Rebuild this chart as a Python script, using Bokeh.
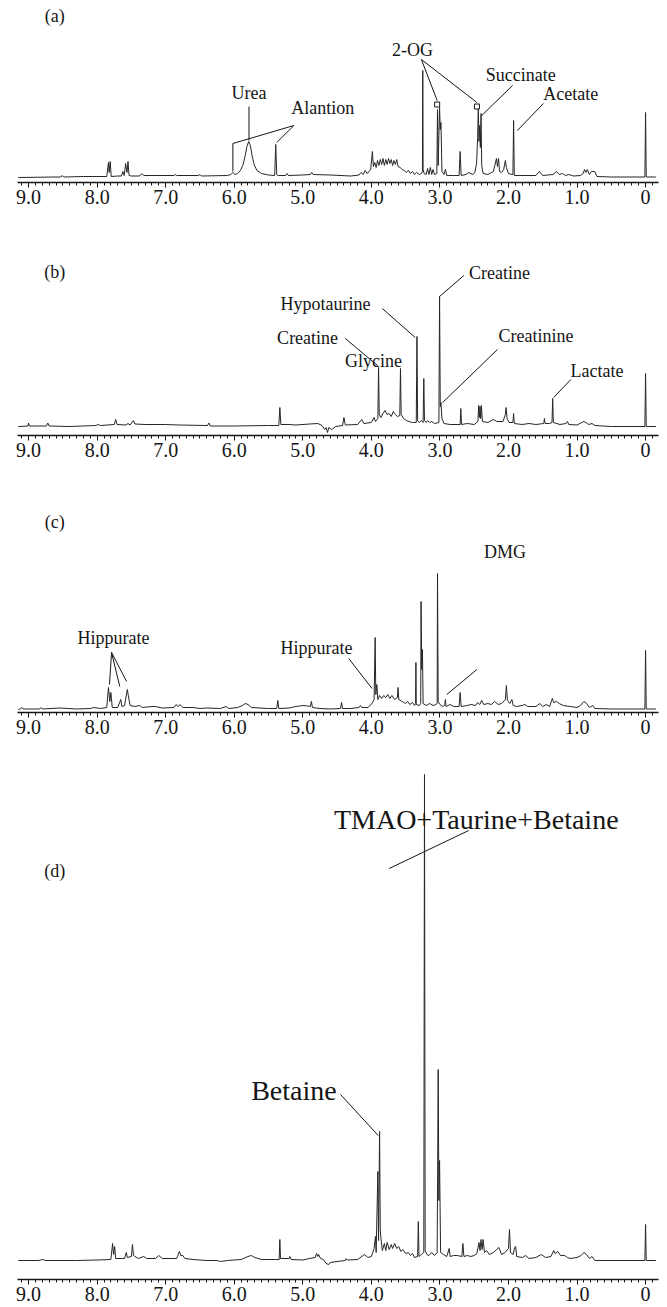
from bokeh.plotting import figure
from bokeh.layouts import column
from bokeh.models import Range1d, FixedTicker
from bokeh.core.properties import value
from bokeh.embed import file_html
from bokeh.resources import INLINE

# ---------------- data (chemical shift in ppm, intensity in arbitrary units) ----------------
tick_values = [9, 8, 7, 6, 5, 4, 3, 2, 1, 0]
tick_labels = ["9.0", "8.0", "7.0", "6.0", "5.0", "4.0", "3.0", "2.0", "1.0", "0"]

# panel (a)
a_ppm = [9.15, 8.60, 8.53, 8.51, 8.49, 8.20, 7.86, 7.835, 7.825, 7.81,
         7.795, 7.70, 7.645, 7.625, 7.605, 7.585, 7.565, 7.55, 7.535, 7.50,
         7.38, 7.35, 7.32, 7.10, 6.88, 6.86, 6.84, 6.52, 6.50, 6.48,
         6.10, 6.05, 6.02, 5.99, 5.95, 5.91, 5.87, 5.84, 5.815, 5.79,
         5.765, 5.74, 5.71, 5.67, 5.60, 5.50, 5.41, 5.395, 5.38, 5.36,
         5.25, 5.23, 5.21, 5.00, 4.89, 4.87, 4.85, 4.60, 4.30, 4.18,
         4.15, 4.12, 4.09, 4.06, 4.01, 3.985, 3.97, 3.95, 3.93, 3.91,
         3.89, 3.87, 3.85, 3.83, 3.81, 3.79, 3.77, 3.75, 3.73, 3.71,
         3.69, 3.67, 3.65, 3.63, 3.61, 3.58, 3.55, 3.52, 3.49, 3.46,
         3.43, 3.40, 3.37, 3.34, 3.30, 3.27, 3.255, 3.25, 3.245, 3.23,
         3.20, 3.18, 3.16, 3.14, 3.12, 3.10, 3.08, 3.045, 3.035, 3.025,
         3.015, 3.005, 2.995, 2.985, 2.97, 2.94, 2.92, 2.90, 2.80, 2.72,
         2.705, 2.69, 2.62, 2.58, 2.52, 2.49, 2.465, 2.45, 2.44, 2.43,
         2.42, 2.41, 2.40, 2.39, 2.37, 2.30, 2.22, 2.175, 2.16, 2.145,
         2.13, 2.10, 2.07, 2.045, 2.03, 2.00, 1.95, 1.935, 1.925, 1.915,
         1.80, 1.60, 1.55, 1.50, 1.35, 1.30, 1.26, 1.21, 1.17, 1.12,
         1.05, 0.95, 0.91, 0.89, 0.87, 0.85, 0.82, 0.79, 0.77, 0.74,
         0.71, 0.50, 0.01, 0.00, -0.01, -0.15]
a_int = [0, 0.5, 0.5, 2, 0.5, 1, 1, 15, 5, 16,
         1, 1.5, 1.5, 6, 2, 14, 5, 16, 2, 1.5,
         1.5, 4, 2, 2, 2, 3, 2, 2, 3, 1.5,
         2, 3, 5, 3, 4, 7, 13, 22, 31, 36,
         32, 22, 13, 7, 4, 2.5, 2, 33, 3, 2,
         2, 4, 2, 2.5, 3, 5, 3, 2.5, 1.5, 2.5,
         5, 3, 7, 4, 8, 26, 11, 15, 10, 17,
         12, 18, 13, 19, 12, 18, 13, 19, 14, 18,
         12, 17, 13, 18, 11, 10, 8, 7, 5, 7,
         4, 6, 3, 5, 3, 4, 6, 107, 8, 4,
         3, 9, 3, 10, 3, 8, 3, 4, 68, 12,
         42, 70, 48, 55, 6, 3, 8, 2, 2, 2,
         26, 2, 3, 5, 3, 5, 14, 40, 69, 36,
         52, 30, 64, 12, 4, 3, 6, 19, 11, 19,
         6, 5, 8, 17, 10, 4, 3, 3, 57, 2,
         2, 2, 6, 2, 3, 6, 3, 4, 2, 3,
         1.5, 2, 4, 8, 5, 8, 3, 6, 6, 6,
         1, 0.5, 0.5, 65, 0.5, 0.5]

# panel (b)
b_ppm = [9.15, 9.01, 9.00, 8.99, 8.74, 8.72, 8.70, 8.40, 8.02, 7.99,
         7.95, 7.75, 7.73, 7.71, 7.58, 7.55, 7.52, 7.47, 7.45, 7.30,
         7.00, 6.80, 6.39, 6.37, 6.35, 6.00, 5.50, 5.35, 5.335, 5.32,
         5.20, 5.10, 4.90, 4.78, 4.72, 4.68, 4.66, 4.64, 4.62, 4.58,
         4.52, 4.42, 4.40, 4.38, 4.20, 4.14, 4.11, 4.00, 3.96, 3.94,
         3.905, 3.895, 3.885, 3.86, 3.83, 3.80, 3.77, 3.74, 3.71, 3.68,
         3.65, 3.62, 3.585, 3.575, 3.565, 3.53, 3.49, 3.45, 3.40, 3.345,
         3.335, 3.325, 3.30, 3.27, 3.245, 3.235, 3.225, 3.20, 3.18, 3.15,
         3.12, 3.08, 3.015, 3.005, 2.995, 2.985, 2.97, 2.94, 2.85, 2.75,
         2.705, 2.695, 2.685, 2.60, 2.50, 2.445, 2.435, 2.425, 2.415, 2.405,
         2.395, 2.38, 2.30, 2.22, 2.17, 2.08, 2.045, 2.035, 2.02, 1.99,
         1.935, 1.925, 1.915, 1.80, 1.70, 1.60, 1.485, 1.475, 1.465, 1.40,
         1.365, 1.355, 1.345, 1.25, 1.16, 1.14, 1.12, 1.00, 0.93, 0.90,
         0.87, 0.83, 0.78, 0.74, 0.50, 0.01, 0.00, -0.01, -0.15]
b_int = [0, 0.5, 3.5, 0.5, 0.5, 3.5, 0.5, 0, 1, 2,
         1, 2, 7, 2, 1.5, 3, 1.5, 6, 2.5, 2,
         2, 1.5, 1, 3.5, 0.5, 0.5, 1, 1, 19, 2,
         2, 1.5, 2.5, 3, 1, -3, -1, -6, -1, -3,
         0, 1, 9, 1.5, 2, 7, 3, 4, 9, 5,
         8, 59, 12, 9, 13, 16, 12, 13, 10, 15,
         12, 10, 11, 58, 12, 8, 6, 5, 4, 4,
         90, 6, 4, 6, 4, 48, 6, 4, 6, 4,
         5, 3, 4, 130, 20, 24, 8, 3, 2, 2,
         2, 18, 2, 3, 2, 5, 21, 9, 20, 8,
         21, 5, 4, 7, 5, 5, 12, 19, 8, 4,
         4, 13, 3, 2, 3, 2, 3, 8, 3, 3,
         4, 28, 4, 2, 3, 5, 2, 1.5, 4, 5,
         4, 2, 3, 1, 0, 0, 53, 0, 0]

# panel (c)
c_ppm = [9.15, 9.12, 9.10, 9.08, 8.84, 8.82, 8.80, 8.55, 8.30, 8.10,
         8.05, 7.95, 7.86, 7.835, 7.815, 7.80, 7.78, 7.70, 7.655, 7.64,
         7.60, 7.56, 7.545, 7.52, 7.45, 7.38, 7.34, 7.20, 7.15, 7.05,
         6.88, 6.85, 6.82, 6.79, 6.75, 6.60, 6.50, 6.40, 6.20, 6.12,
         6.08, 5.95, 5.88, 5.84, 5.80, 5.75, 5.50, 5.38, 5.365, 5.35,
         5.20, 5.10, 5.00, 4.93, 4.89, 4.875, 4.86, 4.75, 4.60, 4.45,
         4.435, 4.42, 4.30, 4.18, 4.16, 4.14, 4.05, 3.99, 3.96, 3.945,
         3.935, 3.92, 3.905, 3.88, 3.85, 3.82, 3.79, 3.76, 3.73, 3.70,
         3.66, 3.62, 3.61, 3.60, 3.55, 3.50, 3.47, 3.44, 3.40, 3.37,
         3.355, 3.35, 3.345, 3.30, 3.28, 3.275, 3.265, 3.255, 3.245, 3.20,
         3.15, 3.10, 3.06, 3.04, 3.035, 3.025, 3.00, 2.96, 2.93, 2.92,
         2.91, 2.85, 2.80, 2.72, 2.705, 2.69, 2.60, 2.55, 2.48, 2.45,
         2.42, 2.39, 2.36, 2.30, 2.25, 2.20, 2.15, 2.10, 2.045, 2.03,
         2.015, 1.98, 1.95, 1.93, 1.88, 1.80, 1.76, 1.72, 1.60, 1.54,
         1.50, 1.45, 1.40, 1.36, 1.34, 1.30, 1.26, 1.20, 1.10, 1.00,
         0.95, 0.90, 0.86, 0.82, 0.77, 0.74, 0.50, 0.01, 0.00, -0.01,
         -0.15]
c_int = [0, 0.5, 2, 0.5, 0.5, 2, 0.5, 1.5, 0.5, 1,
         2, 1, 2, 22, 8, 17, 2, 2, 10, 3,
         4, 20, 14, 4, 3, 4, 2, 3, 3, 1.5,
         2, 5, 3, 5, 2, 2, 1, 1.5, 1, 3,
         1, 2, 4, 6, 5, 2, 1, 1, 9, 1,
         1.5, 3, 4, 3.5, 3, 8, 2, 1, 0.5, 1,
         7, 1, 1, 2, 4, 2, 2, 6, 10, 72,
         15, 25, 10, 14, 11, 14, 12, 15, 11, 14,
         10, 12, 22, 10, 8, 6, 8, 5, 7, 4,
         6, 47, 5, 4, 6, 108, 40, 60, 6, 4,
         6, 4, 5, 6, 136, 8, 5, 3, 4, 10,
         3, 5, 3, 3, 17, 3, 4, 5, 4, 7,
         5, 9, 5, 6, 5, 8, 5, 6, 10, 24,
         9, 6, 10, 4, 3, 4, 5, 3, 3, 6,
         3, 5, 3, 11, 7, 8, 6, 4, 3, 2,
         4, 8, 6, 2, 4, 1, 0.5, 0.5, 59, 0.5,
         0.5]

# panel (d)
d_ppm = [9.15, 8.85, 8.80, 8.75, 8.30, 8.00, 7.80, 7.775, 7.76, 7.745,
         7.73, 7.60, 7.575, 7.56, 7.50, 7.485, 7.47, 7.40, 7.32, 7.28,
         7.15, 7.10, 7.05, 6.84, 6.80, 6.78, 6.75, 6.72, 6.60, 6.40,
         6.25, 6.20, 6.10, 5.90, 5.80, 5.75, 5.70, 5.60, 5.40, 5.345,
         5.335, 5.325, 5.20, 5.19, 5.17, 5.00, 4.90, 4.82, 4.80, 4.78,
         4.77, 4.74, 4.70, 4.66, 4.62, 4.60, 4.50, 4.38, 4.37, 4.35,
         4.20, 4.10, 4.05, 4.00, 3.96, 3.94, 3.93, 3.905, 3.895, 3.88,
         3.87, 3.86, 3.84, 3.81, 3.79, 3.77, 3.74, 3.71, 3.69, 3.66,
         3.63, 3.60, 3.57, 3.54, 3.50, 3.46, 3.43, 3.40, 3.37, 3.325,
         3.315, 3.305, 3.27, 3.235, 3.225, 3.215, 3.19, 3.16, 3.12, 3.08,
         3.04, 3.025, 3.015, 3.005, 2.99, 2.95, 2.90, 2.865, 2.85, 2.80,
         2.75, 2.68, 2.665, 2.65, 2.60, 2.55, 2.50, 2.46, 2.43, 2.415,
         2.40, 2.385, 2.37, 2.35, 2.32, 2.28, 2.22, 2.17, 2.14, 2.10,
         2.05, 2.00, 1.985, 1.97, 1.93, 1.91, 1.895, 1.88, 1.80, 1.75,
         1.70, 1.60, 1.52, 1.46, 1.38, 1.34, 1.32, 1.28, 1.24, 1.18,
         1.14, 1.10, 1.00, 0.94, 0.90, 0.86, 0.82, 0.78, 0.74, 0.05,
         0.01, 0.00, -0.01, -0.15]
d_int = [0, 0, 1, 0, 0, 0.5, 1, 17, 6, 14,
         2, 2, 8, 3, 4, 16, 5, 2, 4, 2,
         2, 5, 2, 2, 9, 5, 5, 2, 1, 0,
         0, -1, 0, 1, 4, 5, 3, 1, 1, 1,
         21, 2, 2, 4, 1, 0.5, 2, 3, 7, 4,
         6, 2, 1, -3, -4, -2, -1, 0, 2, 0.5,
         1, 6, 3, 4, 12, 24, 8, 89, 20, 129,
         30, 22, 10, 17, 10, 18, 11, 16, 12, 17,
         12, 14, 9, 11, 7, 8, 5, 7, 3, 4,
         39, 4, 6, 8, 486, 10, 6, 5, 8, 5,
         8, 191, 60, 100, 8, 6, 4, 12, 4, 5,
         5, 4, 17, 4, 5, 4, 5, 7, 18, 10,
         21, 11, 21, 8, 10, 6, 8, 11, 13, 6,
         8, 12, 31, 8, 6, 13, 14, 4, 3, 5,
         2, 3, 6, 3, 4, 10, 7, 9, 5, 5,
         3, 2, 3, 5, 8, 6, 2, 4, 0, 0,
         0, 36, 0, 0]

# ---------------- annotations (label text and pointer lines, in data coordinates) ----------------
a_labels = ["(a)", "Urea", "Alantion", "2-OG", "Succinate", "Acetate"]
a_lab_x = [8.62, 5.785, 4.71, 3.40, 1.82, 1.09]
a_lab_y = [162, 85, 70, 128, 103, 84]
a_seg = dict(x0=[5.785, 5.13, 6.02, 5.13, 3.27, 3.27, 1.94, 1.49],
             y0=[71, 52, 34, 52, 118, 118, 92, 74],
             x1=[5.785, 6.02, 6.02, 5.38, 3.04, 2.46, 2.39, 1.87],
             y1=[37, 34, 6, 35, 77, 75, 62, 47])
a_box_x = [3.04, 2.46]
a_box_y = [73, 71]

b_labels = ["(b)", "Creatine", "Hypotaurine", "Creatine", "Glycine", "Creatinine", "Lactate"]
b_lab_x = [8.62, 2.13, 4.67, 4.93, 3.97, 1.60, 0.71]
b_lab_y = [155, 154, 123, 89, 66, 91, 56]
b_seg = dict(x0=[3.005, 3.84, 4.38, 2.16, 1.09],
             y0=[130, 118, 88, 77, 47],
             x1=[2.65, 3.36, 3.91, 2.96, 1.34],
             y1=[151, 89, 61, 24, 29])

c_labels = ["(c)", "DMG", "Hippurate", "Hippurate"]
c_lab_x = [8.62, 2.05, 7.76, 4.80]
c_lab_y = [188, 158, 72, 62]
c_seg = dict(x0=[2.90, 7.79, 7.79, 7.79, 4.33],
             y0=[15, 57, 57, 57, 51],
             x1=[2.46, 7.82, 7.67, 7.57, 3.99],
             y1=[40, 25, 23, 28, 21])

d_labels = ["(d)", "TMAO+Taurine+Betaine", "Betaine"]
d_lab_x = [8.62, 2.47, 5.13]
d_lab_y = [390, 441, 170]
d_lab_size = ["18px", "28px", "28px"]
d_seg = dict(x0=[2.58, 4.45], y0=[430, 166], x1=[3.74, 3.90], y1=[392, 125])

# ---------------- layout ----------------
SERIF = "Liberation Serif"
INK = "#151515"
SPEC = "#262626"
X_LEFT, X_RIGHT = 9.41, -0.32
minor = [round(i * 0.1, 1) for i in range(-1, 92)]
AX = 25   # approximate height of the tick/label strip under each frame


def panel(ppm, inten, frame_h, gap, labels, lx, ly, seg, sizes=None):
    p = figure(frame_width=667, frame_height=frame_h,
               x_range=Range1d(X_LEFT, X_RIGHT),
               y_range=Range1d(-gap, frame_h - gap),
               output_backend="svg", toolbar_location=None,
               y_axis_location=None,
               min_border_left=0, min_border_right=0,
               min_border_top=0, min_border_bottom=0,
               outline_line_color=None,
               background_fill_color="white", border_fill_color="white")
    p.xgrid.visible = False
    p.ygrid.visible = False
    ax = p.xaxis[0]
    ax.ticker = FixedTicker(ticks=tick_values, minor_ticks=minor)
    ax.major_label_overrides = {v: t for v, t in zip(tick_values, tick_labels)}
    ax.major_label_text_font = SERIF
    ax.major_label_text_font_size = "20px"
    ax.major_label_text_color = INK
    ax.major_label_standoff = 2
    ax.axis_line_color = INK
    ax.axis_line_width = 1.6
    ax.major_tick_line_color = INK
    ax.minor_tick_line_color = INK
    ax.major_tick_in = 0
    ax.major_tick_out = 5
    ax.minor_tick_in = 0
    ax.minor_tick_out = 3
    ax.bounds = (-0.19, 9.16)

    p.line(ppm, inten, line_color=SPEC, line_width=1)
    p.segment(seg["x0"], seg["y0"], seg["x1"], seg["y1"], line_color=INK, line_width=1)
    if sizes is None:
        sizes = ["18px"] * len(labels)
    p.text(x=lx, y=ly, text=labels, text_font=value(SERIF), text_font_size=sizes,
           text_align="center", text_baseline="middle", text_color=INK)
    return p


pa = panel(a_ppm, a_int, 182, 5, a_labels, a_lab_x, a_lab_y, a_seg)
pa.scatter(a_box_x, a_box_y, marker="square", size=5, fill_color="white", line_color=INK)
pb = panel(b_ppm, b_int, 254 - AX, 9, b_labels, b_lab_x, b_lab_y, b_seg)
pc = panel(c_ppm, c_int, 278 - AX, 3, c_labels, c_lab_x, c_lab_y, c_seg)
pd = panel(d_ppm, d_int, 568 - AX, 19, d_labels, d_lab_x, d_lab_y, d_seg, d_lab_size)

layout = column(pa, pb, pc, pd, spacing=0)
open("out.html", "w").write(file_html(layout, INLINE))
